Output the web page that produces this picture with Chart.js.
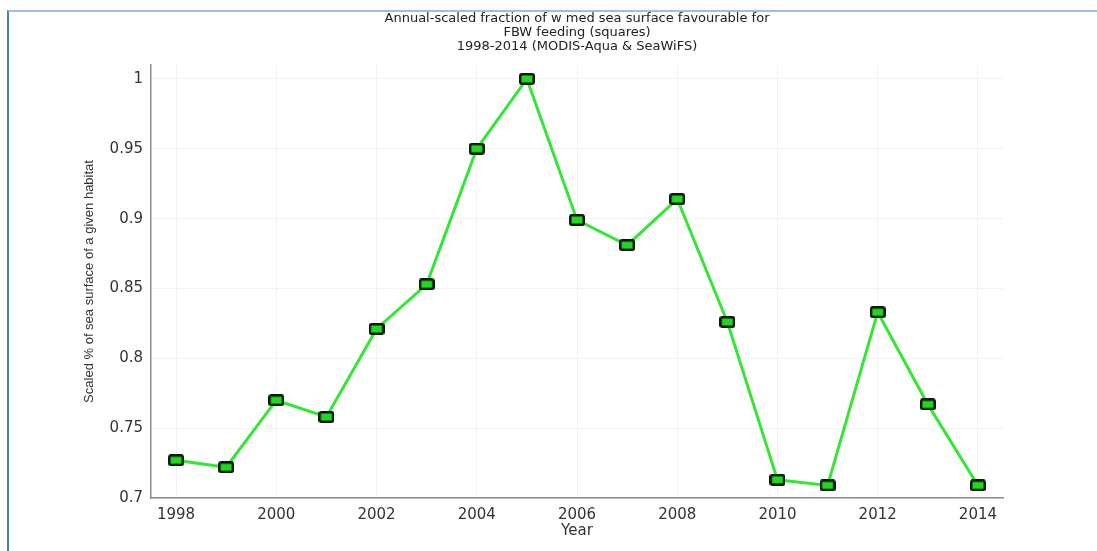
<!DOCTYPE html>
<html>
<head>
<meta charset="utf-8">
<script src="https://cdn.jsdelivr.net/npm/chart.js@4"></script>
<style>
  body { margin: 0; background: #fff; }
  #wrap { position: relative; width: 1097px; height: 551px; }
  #frame {
    position: absolute; left: 7px; top: 10px; right: 0; bottom: 0;
    border-top: 2px solid #a2bcdc; border-left: 2px solid #4a7ec0;
    pointer-events: none;
  }
</style>
</head>
<body>
<div id="wrap">
  <canvas id="habitatChart"></canvas>
  <div id="frame"></div>
</div>
<script>
const years = [1998, 1999, 2000, 2001, 2002, 2003, 2004, 2005, 2006, 2007, 2008, 2009, 2010, 2011, 2012, 2013, 2014];
const scaledFraction = [0.727, 0.722, 0.770, 0.758, 0.821, 0.853, 0.950, 1.000, 0.899, 0.881, 0.914, 0.826, 0.713, 0.709, 0.833, 0.767, 0.709];
const xTicks = [1998, 2000, 2002, 2004, 2006, 2008, 2010, 2012, 2014];
const yTicks = [0.7, 0.75, 0.8, 0.85, 0.9, 0.95, 1];
const yTickLabels = ['0.7', '0.75', '0.8', '0.85', '0.9', '0.95', '1'];

// rectangular marker like the matlab squares (wider than tall)
function makeMarker() {
  const c = document.createElement('canvas');
  c.width = 16; c.height = 12;
  const g = c.getContext('2d');
  g.fillStyle = '#0b1a0b';
  g.beginPath();
  g.roundRect(0, 0, 16, 12, 3);
  g.fill();
  g.fillStyle = '#22d622';
  g.fillRect(2.5, 2.5, 11, 7);
  return c;
}
const marker = makeMarker();

const ctx = document.getElementById('habitatChart').getContext('2d');
new Chart(ctx, {
  type: 'line',
  data: {
    datasets: [{
      data: years.map((y, i) => ({ x: y, y: scaledFraction[i] })),
      borderColor: '#36e636',
      borderWidth: 3,
      pointStyle: marker,
      pointRadius: 8,
      tension: 0
    }]
  },
  options: {
    responsive: true,
    maintainAspectRatio: false,
    animation: false,
    layout: { padding: { left: 0, top: 0, right: 94, bottom: 0 } },
    plugins: {
      legend: { display: false },
      tooltip: { enabled: false },
      title: {
        display: true,
        fullSize: false,
        text: [
          'Annual-scaled fraction of w med sea surface favourable for',
          'FBW feeding (squares)',
          '1998-2014 (MODIS-Aqua & SeaWiFS)'
        ],
        color: '#222',
        font: { family: 'DejaVu Sans', size: 13, weight: 'normal', lineHeight: 1.05 },
        padding: { top: 12, bottom: 12 }
      }
    },
    scales: {
      x: {
        type: 'linear',
        min: 1997.5,
        max: 2014.5,
        afterBuildTicks: s => { s.ticks = xTicks.map(v => ({ value: v })); },
        afterFit: s => { s.height = 53; },
        ticks: {
          color: '#333',
          font: { family: 'DejaVu Sans', size: 15 },
          padding: 8,
          maxRotation: 0,
          callback: v => String(v)
        },
        grid: { color: '#f2f2f2', drawTicks: false },
        border: { color: '#8c8c8c', width: 1.5 },
        title: {
          display: true,
          text: 'Year',
          color: '#333',
          font: { family: 'DejaVu Sans', size: 15 },
          padding: { top: 0, bottom: 11 }
        }
      },
      y: {
        min: 0.7,
        max: 1.01,
        afterBuildTicks: s => { s.ticks = yTicks.map(v => ({ value: v })); },
        afterFit: s => { s.width = 151; },
        ticks: {
          color: '#333',
          font: { family: 'DejaVu Sans', size: 15 },
          padding: 8,
          callback: (v, i) => yTickLabels[i]
        },
        grid: { color: '#f2f2f2', drawTicks: false },
        border: { color: '#8c8c8c', width: 1.5 },
        title: {
          display: true,
          text: 'Scaled % of sea surface of a given habitat',
          color: '#333',
          font: { family: 'Liberation Sans', size: 13 },
          padding: { top: 82, bottom: 0 }
        }
      }
    }
  }
});
</script>
</body>
</html>
